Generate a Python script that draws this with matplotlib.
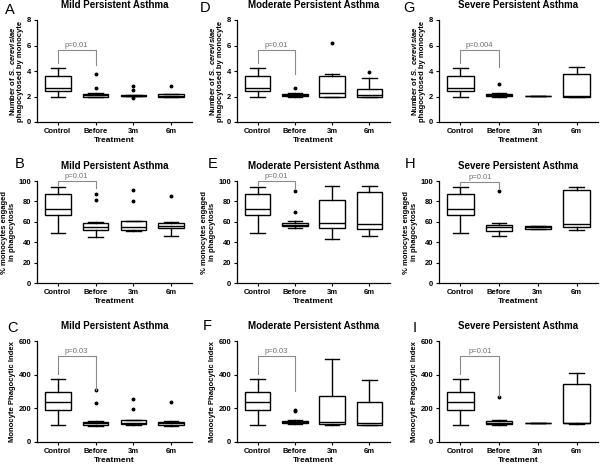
import matplotlib.pyplot as plt

plt.rcParams['font.family'] = ['Liberation Sans', 'DejaVu Sans']
plt.rcParams['mathtext.fontset'] = 'custom'
plt.rcParams['mathtext.it'] = 'Liberation Sans:italic:bold'
plt.rcParams['mathtext.rm'] = 'Liberation Sans:bold'

groups = ['Control', 'Before', '3m', '6m']
titles = ['Mild Persistent Asthma', 'Moderate Persistent Asthma', 'Severe Persistent Asthma']

## box stats: (whisker low, q1, median, q3, whisker high)
ctrl_num = (1.95, 2.45, 2.7, 3.62, 4.2)
ctrl_pct = (49, 67, 73, 87, 94)
ctrl_idx = (103, 191, 236, 299, 375)

num_mild = [ctrl_num, (1.95, 2.0, 2.1, 2.22, 2.25), (2.03, 2.05, 2.07, 2.09, 2.1), (1.93, 1.97, 2.05, 2.18, 2.2)]
num_mild_out = [[], [3.75, 2.65], [2.8, 2.5, 1.9], [2.85]]
num_mod = [ctrl_num, (2.0, 2.05, 2.1, 2.2, 2.25), (1.95, 2.0, 2.3, 3.6, 3.8), (1.95, 2.0, 2.1, 2.6, 3.45)]
num_mod_out = [[], [2.65], [6.2], [3.9]]
num_sev = [ctrl_num, (1.95, 2.05, 2.1, 2.2, 2.3), (2.03, 2.04, 2.05, 2.06, 2.07), (2.0, 2.0, 2.02, 3.8, 4.35)]
num_sev_out = [[], [2.95], [], []]

pct_mild = [ctrl_pct, (45.5, 52, 55, 59, 60), (50.5, 52, 55, 60.5, 61), (46.5, 53.5, 56, 59, 59.5)]
pct_mild_out = [[], [87, 81], [91, 80], [85]]
pct_mod = [ctrl_pct, (53.5, 56, 57, 59, 60.5), (43.5, 53.5, 59, 81, 95), (46.5, 53, 58, 89.5, 95)]
pct_mod_out = [[], [90, 70], [], []]
pct_sev = [ctrl_pct, (46.5, 51, 55, 57, 59), (53, 53, 55, 56, 56), (51.5, 54.5, 57.5, 91, 94)]
pct_sev_out = [[], [90], [], []]

idx_mild = [ctrl_idx, (98, 100, 110, 120, 122), (100, 105, 115, 128, 130), (98, 103, 112, 120, 122)]
idx_mild_out = [[], [310, 230], [255, 195], [240]]
idx_mod = [ctrl_idx, (105, 110, 120, 125, 130), (100, 108, 120, 275, 495), (100, 103, 112, 235, 368)]
idx_mod_out = [[], [190, 183], [], []]
idx_sev = [ctrl_idx, (100, 105, 112, 125, 128), (110, 111, 112, 113, 114), (105, 110, 115, 345, 410)]
idx_sev_out = [[], [265], [], []]

## brackets: (bar height, left leg end, right leg end, label)
brk_num = [(5.65, 4.6, 4.5, 'p=0.01'), (5.65, 4.6, 3.75, 'p=0.01'), (5.65, 4.6, 4.3, 'p=0.004')]
brk_pct = [(100, 96, 93, 'p=0.01'), (100, 96, 93, 'p=0.01'), (99, 96, 93, 'p=0.01')]
brk_idx = [(512, 405, 310, 'p=0.03'), (512, 405, 305, 'p=0.03'), (512, 405, 275, 'p=0.01')]

rows = [
    ([num_mild, num_mod, num_sev], [num_mild_out, num_mod_out, num_sev_out], brk_num,
     (0, 8), [0, 2, 4, 6, 8],
     'Number of $\\mathit{S.\\ cerevisiae}$\nphagocytosed by monocyte'),
    ([pct_mild, pct_mod, pct_sev], [pct_mild_out, pct_mod_out, pct_sev_out], brk_pct,
     (0, 100), [0, 20, 40, 60, 80, 100],
     '% monocytes engaged\nin phagocytosis'),
    ([idx_mild, idx_mod, idx_sev], [idx_mild_out, idx_mod_out, idx_sev_out], brk_idx,
     (0, 600), [0, 200, 400, 600],
     'Monocyte Phagocytic Index'),
]
letters = [['A', 'D', 'G'], ['B', 'E', 'H'], ['C', 'F', 'I']]
letter_pos = [[(5, 14), (200, 12), (403, 12)],
              [(15, 168), (208, 168), (405, 168)],
              [(7, 332), (203, 330), (413, 332)]]

W, H = 600, 466
fig = plt.figure(figsize=(6, 4.66), dpi=100)

col_x = [(37, 192), (237, 390), (439, 598)]
row_y = [(20, 122), (181, 283), (341, 442)]

for r, (datas, outs, brks, ylim, yticks, ylab) in enumerate(rows):
    for c in range(3):
        x0, x1 = col_x[c]
        yt, yb = row_y[r]
        ax = fig.add_axes([x0 / W, 1 - yb / H, (x1 - x0) / W, (yb - yt) / H])
        stats = []
        for g, s, o in zip(groups, datas[c], outs[c]):
            stats.append(dict(whislo=s[0], q1=s[1], med=s[2], q3=s[3], whishi=s[4], fliers=o, label=g))
        ax.bxp(stats, positions=[1, 2, 3, 4], widths=0.68, capwidths=0.38, showfliers=True,
               patch_artist=True,
               boxprops=dict(facecolor='white', edgecolor='black', linewidth=1.0),
               medianprops=dict(color='black', linewidth=1.0),
               whiskerprops=dict(color='black', linewidth=1.0),
               capprops=dict(color='black', linewidth=1.0),
               flierprops=dict(marker='o', markersize=1.8, markerfacecolor='black',
                               markeredgecolor='black', linestyle='none'))
        ax.set_xlim(0.45, 4.55)
        ax.set_ylim(*ylim)
        ax.set_yticks(yticks)
        ax.set_xticks([1, 2, 3, 4])
        ax.set_xticklabels(groups)
        for sp in ['top', 'right']:
            ax.spines[sp].set_visible(False)
        for sp in ['left', 'bottom']:
            ax.spines[sp].set_linewidth(0.9)
        ax.tick_params(labelsize=5.5, length=2.5, width=0.8, pad=1.5)
        for lab in ax.get_xticklabels() + ax.get_yticklabels():
            lab.set_fontweight('bold')
        ax.set_xlabel('Treatment', fontsize=6, fontweight='bold', labelpad=2)
        ax.set_ylabel(ylab, fontsize=5.5, fontweight='bold', labelpad=2, linespacing=1.1)
        ax.set_title(titles[c], fontsize=7, fontweight='bold', pad=8.5)

        yb_, yl, yr, txt = brks[c]
        ax.plot([1, 1, 2, 2], [yl, yb_, yb_, yr], color='#8a8a8a', linewidth=0.8, clip_on=False)
        ax.text(1.5, yb_ + (ylim[1] * 0.012), txt, ha='center', va='bottom', fontsize=5.5,
                color='#707070', clip_on=False)

        lx, ly = letter_pos[r][c]
        fig.text(lx / W, 1 - ly / H, letters[r][c], fontsize=10.5)

fig.savefig('out.png', dpi=100)
